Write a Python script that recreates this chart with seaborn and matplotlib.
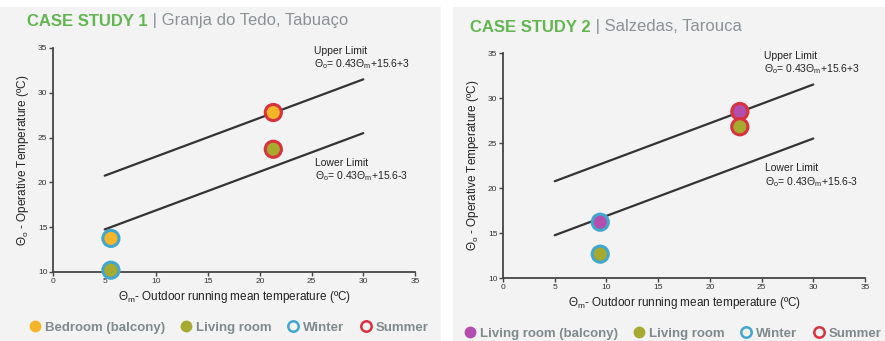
import matplotlib
matplotlib.use("Agg")
import matplotlib.pyplot as plt
from matplotlib.patches import Rectangle
from matplotlib.lines import Line2D
import seaborn as sns
import pandas as pd

# readings from the two case-study panels
seasons = ["Winter", "Summer", "Winter", "Summer"]
case1_rooms = ["Bedroom (balcony)", "Bedroom (balcony)", "Living room", "Living room"]
case1_x = [5.6, 21.3, 5.6, 21.3]
case1_y = [13.75, 27.8, 10.2, 23.7]
case2_rooms = ["Living room (balcony)", "Living room (balcony)", "Living room", "Living room"]
case2_x = [9.4, 22.9, 9.4, 22.9]
case2_y = [16.2, 28.5, 12.65, 26.8]

limit_x = [5, 30]
upper_y = [20.75, 31.5]
lower_y = [14.75, 25.5]

x_ticks = [0, 5, 10, 15, 20, 25, 30, 35]
y_ticks = [10, 15, 20, 25, 30, 35]

room_colors = {"Bedroom (balcony)": "#f6b428", "Living room": "#a6ab2f",
               "Living room (balcony)": "#b24fae"}
season_colors = {"Winter": "#43a6cf", "Summer": "#d7323e"}

sns.set_theme(style="white")
plt.rcParams["font.family"] = ["Liberation Sans", "DejaVu Sans"]
plt.rcParams["mathtext.fontset"] = "custom"
plt.rcParams["mathtext.rm"] = "Liberation Sans"
plt.rcParams["mathtext.it"] = "Liberation Sans"

fig = plt.figure(figsize=(8.85, 3.41), dpi=100)
fig.patch.set_facecolor("white")
panel_bg = "#f3f3f3"
fig.patches.append(Rectangle((0, 0), 441 / 885, 1 - 7 / 341, transform=fig.transFigure,
                             facecolor=panel_bg, edgecolor="none", zorder=-10))
fig.patches.append(Rectangle((453 / 885, 0), 432 / 885, 1 - 7 / 341, transform=fig.transFigure,
                             facecolor=panel_bg, edgecolor="none", zorder=-10))

cases = [
    dict(rect=[53 / 885, 1 - 272 / 341, 362 / 885, 224 / 341], rooms=case1_rooms, x=case1_x, y=case1_y,
         title="CASE STUDY 1", place="| Granja do Tedo, Tabuaço", title_xy=(27 / 885, 1 - 21 / 341),
         leg_xy=(228 / 885, 1 - 327 / 341)),
    dict(rect=[503 / 885, 1 - 278 / 341, 362 / 885, 225 / 341], rooms=case2_rooms, x=case2_x, y=case2_y,
         title="CASE STUDY 2", place="| Salzedas, Tarouca", title_xy=(470 / 885, 1 - 27 / 341),
         leg_xy=(672 / 885, 1 - 333 / 341)),
]

for c in cases:
    ax = fig.add_axes(c["rect"])
    ax.set_facecolor("none")
    df = pd.DataFrame({"x": c["x"], "y": c["y"], "room": c["rooms"], "season": seasons})

    sns.lineplot(x=limit_x, y=upper_y, color="#333333", linewidth=1.6, ax=ax)
    sns.lineplot(x=limit_x, y=lower_y, color="#333333", linewidth=1.6, ax=ax)
    for s in ["Winter", "Summer"]:
        sns.scatterplot(data=df[df["season"] == s], x="x", y="y", hue="room", palette=room_colors,
                        edgecolor=season_colors[s], linewidth=2.2, s=135, legend=False, ax=ax,
                        zorder=5, clip_on=False)

    ax.set_xlim(0, 35)
    ax.set_ylim(10, 35)
    ax.set_xticks(x_ticks)
    ax.set_yticks(y_ticks)
    ax.tick_params(axis="both", labelsize=6, length=3, width=1, color="#444444",
                   labelcolor="#333333", pad=1, bottom=True, left=True)
    for side in ["top", "right"]:
        ax.spines[side].set_visible(False)
    for side in ["left", "bottom"]:
        ax.spines[side].set_color("#444444")
        ax.spines[side].set_linewidth(1.3)
    ax.set_xlabel(r"$\Theta_{m}$- Outdoor running mean temperature (ºC)", fontsize=8.5,
                  color="#222222", labelpad=3)
    ax.set_ylabel(r"$\Theta_{o}$ - Operative Temperature (ºC)", fontsize=8.5,
                  color="#222222", labelpad=5)

    ax.text(25.2, 34.7, "Upper Limit", fontsize=7.5, color="#222222", va="center")
    ax.text(25.2, 33.2, r"$\Theta_{o}$= 0.43$\Theta_{m}$+15.6+3", fontsize=7.5,
            color="#222222", va="center")
    ax.text(25.3, 22.2, "Lower Limit", fontsize=7.5, color="#222222", va="center")
    ax.text(25.3, 20.7, r"$\Theta_{o}$= 0.43$\Theta_{m}$+15.6-3", fontsize=7.5,
            color="#222222", va="center")

    t1 = fig.text(c["title_xy"][0], c["title_xy"][1], c["title"], fontsize=12, fontweight="bold",
                  color="#62b650", va="center", ha="left")
    ax.annotate(" " + c["place"], xy=(1, 0), xycoords=t1, fontsize=12, color="#8a9296",
                va="bottom", ha="left", annotation_clip=False)

    handles = []
    labels = []
    seen = []
    for r in c["rooms"]:
        if r not in seen:
            seen.append(r)
            handles.append(Line2D([], [], marker="o", linestyle="none", markersize=7.5,
                                  markerfacecolor=room_colors[r], markeredgecolor=room_colors[r]))
            labels.append(r)
    for s in ["Winter", "Summer"]:
        handles.append(Line2D([], [], marker="o", linestyle="none", markersize=7.5,
                              markerfacecolor="none", markeredgecolor=season_colors[s],
                              markeredgewidth=1.8))
        labels.append(s)
    leg = fig.legend(handles, labels, loc="center", bbox_to_anchor=c["leg_xy"], ncol=4, frameon=False,
                     handletextpad=0.15, columnspacing=0.9, handlelength=1.0, borderaxespad=0)
    for t in leg.get_texts():
        t.set_fontsize(9.5)
        t.set_fontweight("bold")
        t.set_color("#7f8a8c")

fig.savefig("out.png", dpi=100, facecolor=fig.get_facecolor())
